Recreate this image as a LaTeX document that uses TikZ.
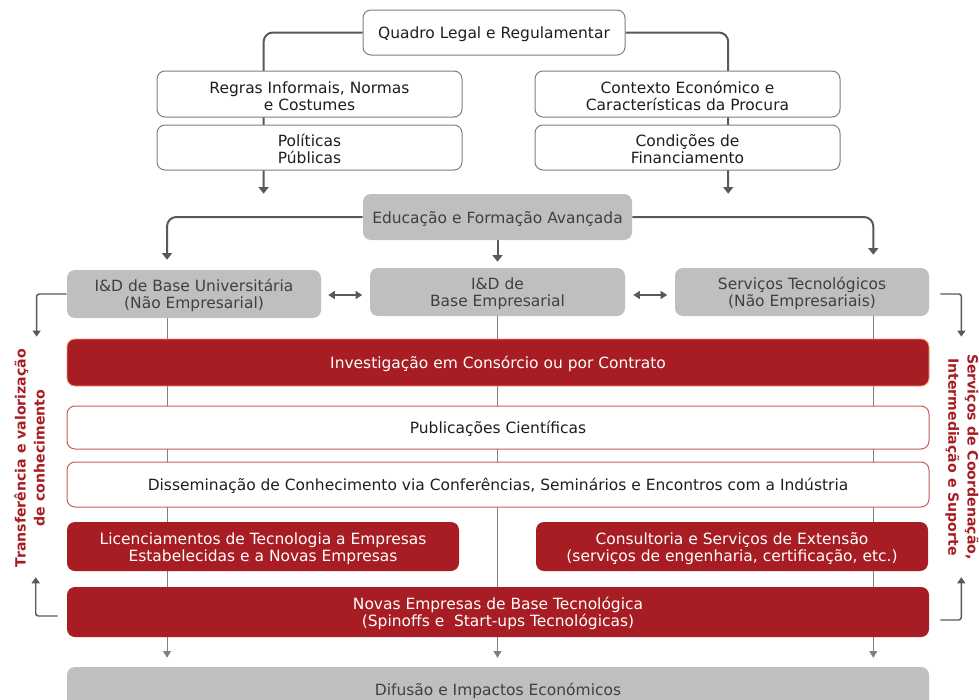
\documentclass[tikz,border=0pt]{standalone}
\usepackage{fontspec}
\setmainfont{DejaVu Sans}
\usetikzlibrary{arrows.meta,calc,backgrounds}
\definecolor{rd}{RGB}{168,29,36}
\definecolor{gb}{RGB}{191,191,191}
\definecolor{ln}{RGB}{89,89,89}
\definecolor{bd}{RGB}{127,127,127}
\definecolor{rb}{RGB}{200,90,92}
\definecolor{ob}{RGB}{240,150,100}
\definecolor{tx}{RGB}{30,30,30}
\definecolor{gt}{RGB}{64,64,64}
\tikzset{
  base/.style={rounded corners=6pt, align=center, inner sep=0pt, font=\fontsize{11.6}{12.8}\selectfont},
  one/.style={text height=11.5pt},
  two/.style={text height=24.3pt},
  sz/.style 2 args={minimum width=#1, minimum height=#2},
  wbox/.style={base, draw=bd, line width=0.75pt, fill=white, text=tx},
  gbox/.style={base, fill=gb, text=gt},
  rbox/.style={base, fill=rd, text=white},
  rwbox/.style={base, draw=rb, line width=0.75pt, fill=white, text=tx},
  conn/.style={draw=ln, line width=1.5pt, rounded corners=7pt, -{Triangle[width=7.5pt,length=5pt]}},
  thinarr/.style={draw=bd, line width=0.6pt, -{Triangle[width=6pt,length=5pt]}},
  dbl/.style={draw=ln, line width=1.1pt, {Triangle[width=6pt,length=5pt]}-{Triangle[width=6pt,length=5pt]}},
  brk/.style={draw=ln, line width=1.1pt, rounded corners=2pt, -{Triangle[width=6pt,length=4.5pt]}},
  side/.style={text=rd, font=\fontsize{10.6}{14.3}\selectfont\bfseries, align=center, inner sep=0pt}
}
\begin{document}
\begin{tikzpicture}[x=0.75pt,y=-0.75pt]
\useasboundingbox (0,0) rectangle (979,700);
\clip (0,0) rectangle (979,700);

% top level
\node[wbox, one, sz={196.5pt}{33.75pt}] (quadro) at (494,32.5) {Quadro Legal e Regulamentar};
\node[wbox, two, sz={228.75pt}{34.5pt}] (regras) at (309.5,94) {Regras Informais, Normas\\e Costumes};
\node[wbox, two, sz={228.75pt}{33.75pt}] (politicas) at (309.5,147.5) {Políticas\\Públicas};
\node[wbox, two, sz={228.75pt}{34.5pt}] (contexto) at (687.5,94) {Contexto Económico e\\Características da Procura};
\node[wbox, two, sz={228.75pt}{33.75pt}] (condicoes) at (687.5,147.5) {Condições de\\Financiamento};

\node[gbox, one, sz={201.75pt}{34.5pt}] (educ) at (497.5,217) {Educação e Formação Avançada};

\node[gbox, two, sz={190.5pt}{36pt}] (idu) at (194,294) {I\&D de Base Universitária\\(Não Empresarial)};
\node[gbox, two, sz={191.25pt}{36pt}] (ide) at (497.5,292) {I\&D de\\Base Empresarial};
\node[gbox, two, sz={190.5pt}{36pt}] (serv) at (802,292) {Serviços Tecnológicos\\(Não Empresariais)};

\node[rbox, one, draw=ob, line width=0.6pt, sz={646.5pt}{35.25pt}] (invest) at (498,362.5) {Investigação em Consórcio ou por Contrato};
\node[rwbox, one, sz={646.5pt}{32.25pt}] (pub) at (498,427.5) {Publicações Científicas};
\node[rwbox, one, sz={646.5pt}{33.75pt}] (diss) at (498,484.5) {Disseminação de Conhecimento via Conferências, Seminários e Encontros com a Indústria};
\node[rbox, two, sz={294pt}{36.75pt}] (lic) at (263,546.5) {Licenciamentos de Tecnologia a Empresas\\Estabelecidas e a Novas Empresas};
\node[rbox, two, sz={294pt}{36.75pt}] (cons) at (732,546.5) {Consultoria e Serviços de Extensão\\(serviços de engenharia, certificação, etc.)};
\node[rbox, two, sz={646.5pt}{37.5pt}] (novas) at (498,612) {Novas Empresas de Base Tecnológica\\(Spinoffs e\ \ Start-ups Tecnológicas)};
\node[gbox, one, sz={646.5pt}{33pt}] (difusao) at (498,689) {Difusão e Impactos Económicos};

\node[side, rotate=90] (tl) at (29.5,458) {Transferência e valorização\\de conhecimento};
\node[side, rotate=-90] (tr) at (962,457) {Serviços de Coordenação,\\Intermediação e Suporte};

\coordinate (pa) at ($(politicas.south west)!0.35!(politicas.south east)$);
\coordinate (ca) at ($(condicoes.south west)!0.633!(condicoes.south east)$);
\coordinate (ua) at ($(idu.north west)!0.394!(idu.north east)+(0,-10)$);
\coordinate (sa) at ($(serv.north west)!0.78!(serv.north east)+(0,-13)$);
\coordinate (dtop) at ($(difusao.north)+(0,-9)$);

\begin{pgfonlayer}{background}
\path[conn] (quadro.west) -| (pa |- educ.north);
\path[conn] (quadro.east) -| (ca |- educ.north);
\path[conn] (educ.west) -| (ua);
\path[conn] (educ.east) -| (sa);
\path[conn] (educ.south) -- ($(ide.north)+(0,-6)$);

\path[thinarr] (ua |- idu.south) -- (ua |- dtop);
\path[thinarr] (ide.south) -- (ide.south |- dtop);
\path[thinarr] (sa |- serv.south) -- (sa |- dtop);
\end{pgfonlayer}

\path[dbl] ($(idu.east)+(7,1)$) -- ($(idu.east)+(41,1)$);
\path[dbl] ($(ide.east)+(8,3)$) -- ($(ide.east)+(42,3)$);

\path[brk] (idu.west) -| ($(invest.north west)+(-30,-2)$);
\path[brk] ($(serv.east)+(11,2)$) -| ($(invest.north east)+(32,-2)$);
\path[brk] ($(novas.west)+(-9,4)$) -| ($(lic.south west)+(-31,6)$);
\path[brk] ($(novas.east)+(11,8)$) -| ($(cons.south east)+(33,6)$);
\end{tikzpicture}
\end{document}
